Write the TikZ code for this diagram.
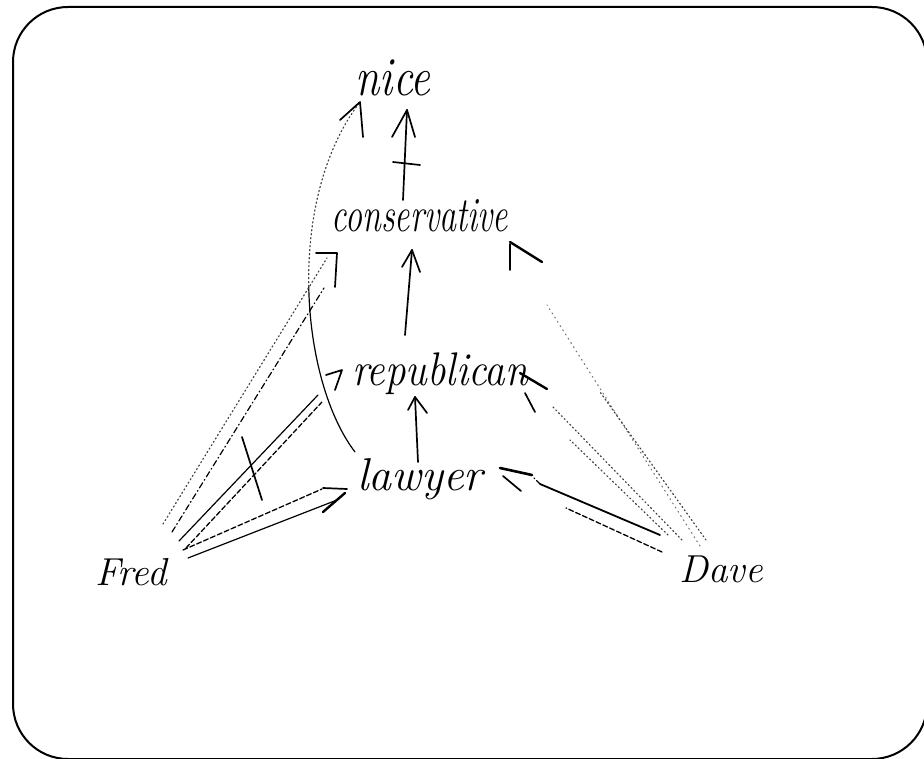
\documentclass[tikz,border=0pt]{standalone}
\begin{document}
\begin{tikzpicture}[x=1pt,y=-1pt,
  lbl/.style={inner sep=0pt, anchor=base, font=\itshape},
  pen/.style={line width=1.7pt, line cap=round, line join=round},
  thin pen/.style={line width=1.2pt, line cap=round},
  dashpen/.style={line width=1.3pt, line cap=round, dash pattern=on 5pt off 2.5pt},
  dotpen/.style={line width=1.2pt, line cap=round, dash pattern=on 1.2pt off 2.8pt, black!75},
  faintpen/.style={line width=1.1pt, line cap=round, dash pattern=on 1pt off 4pt, black!55},
  frame/.style={line width=2pt, rounded corners=55pt}]
\useasboundingbox (0,0) rectangle (924,759);
\fill[white] (0,0) rectangle (924,759);
\draw[frame] (13,7) rectangle (927,759);

% labels
\node[lbl, font=\fontsize{44}{50}\selectfont\itshape] (nice) at (393,96) {\scalebox{1}[1.25]{nice}};
\node[lbl, font=\fontsize{34}{40}\selectfont\itshape] (conservative) at (420,232) {\scalebox{1}[1.45]{conservative}};
\node[lbl, font=\fontsize{41}{46}\selectfont\itshape] (republican) at (440,385) {\scalebox{1}[1.15]{republican}};
\node[lbl, font=\fontsize{46}{52}\selectfont\itshape] (lawyer) at (420,490) {lawyer};
\node[lbl, font=\fontsize{39}{44}\selectfont\itshape] (Fred) at (131,585) {Fred};
\node[lbl, font=\fontsize{39}{44}\selectfont\itshape] (Dave) at (721,582) {Dave};

% named ends
\coordinate (cnTop) at (407,110);
\coordinate (cnBot) at (403,200);
\coordinate (rcTop) at (412,250);
\coordinate (rcBot) at (405,335);
\coordinate (lrTop) at (415,397);
\coordinate (lrBot) at (418,462);
\coordinate (lnBot) at (355,452);
\coordinate (lnTop) at (360,102);
\coordinate (lnMid) at (308.75,286.75);

% conservative -> nice (with a cross stroke)
\draw[pen] (cnBot) -- (cnTop);
\draw[pen] (392,137) -- (cnTop) -- (415,137);
\draw[pen] (393,162) -- (420,165);

% republican -> conservative
\draw[pen] (rcBot) -- (rcTop);
\draw[pen] (402,267) -- (rcTop) -- (420,272);

% lawyer -> republican
\draw[pen] (lrBot) -- (lrTop);
\draw[pen] (408,410) -- (lrTop) -- (427,413);

% lawyer -> nice (curved)
\draw[thin pen] (lnBot) .. controls (327.5,416) and (310,353) .. (lnMid);
\draw[dotpen] (lnMid) .. controls (307.5,220.5) and (322.5,151) .. (lnTop);
\draw[pen] (340,120) -- (lnTop) -- (363,137);

% Fred -> lawyer
\coordinate (fl1a) at (183,550); \coordinate (fl1b) at (322,489);
\coordinate (fl2a) at (188,558); \coordinate (fl2b) at (337,500);
\draw[dashpen] (fl1a) -- (fl1b);
\draw[thin pen] (fl2a) -- (fl2b);
\draw[pen] (323,488) -- (347,489);
\draw[pen, line width=2.4pt] (323,512) -- (345,493);

% Fred -> republican (crossed)
\coordinate (fr1a) at (179,541); \coordinate (fr1b) at (318,395);
\coordinate (fr2a) at (186,548); \coordinate (fr2b) at (322,402);
\draw[thin pen] (fr1a) -- (fr1b);
\draw[dashpen] (fr2a) -- (fr2b);
\draw[pen] (326,375) -- (342,370) -- (335,390);
\draw[pen] (242,437) -- (262,500);

% Fred -> conservative
\coordinate (fc1a) at (163,524); \coordinate (fc1b) at (327,258);
\coordinate (fc2a) at (172,532); \coordinate (fc2b) at (324,288);
\draw[dotpen] (fc1a) -- (fc1b);
\draw[thin pen, dash pattern=on 6pt off 3pt on 1pt off 3pt] (fc2a) -- (fc2b);
\draw[pen] (316,253) -- (337,253) -- (335,287);

% Dave -> lawyer
\coordinate (dl1a) at (660,535); \coordinate (dl1b) at (540,484);
\coordinate (dl2a) at (662,552); \coordinate (dl2b) at (566,508);
\draw[pen, line width=1.8pt] (dl1a) -- (dl1b);
\draw[dashpen] (dl1b) -- (534,478);
\draw[dashpen] (dl2a) -- (dl2b);
\draw[pen, line width=2.6pt] (500,468) -- (532,475);
\draw[pen] (503,476) -- (521,491);

% Dave -> republican
\coordinate (dr1a) at (682,540); \coordinate (dr1b) at (552,406);
\coordinate (dr2a) at (668,535); \coordinate (dr2b) at (570,440);
\draw[dotpen] (dr1a) -- (dr1b);
\draw[dotpen] (dr2a) -- (dr2b);
\draw[pen, line width=2.4pt] (520,373) -- (547,389);
\draw[pen] (525,393) -- (535,412);

% Dave -> conservative
\coordinate (dc1a) at (700,546); \coordinate (dc1b) at (547,305);
\coordinate (dc2a) at (706,540); \coordinate (dc2b) at (600,392);
\draw[faintpen] (dc1a) -- (dc1b);
\draw[dotpen] (dc2a) -- (dc2b);
\draw[pen, line width=2.4pt] (510,242) -- (542,262);
\draw[pen] (510,244) -- (510,270);
\end{tikzpicture}
\end{document}
